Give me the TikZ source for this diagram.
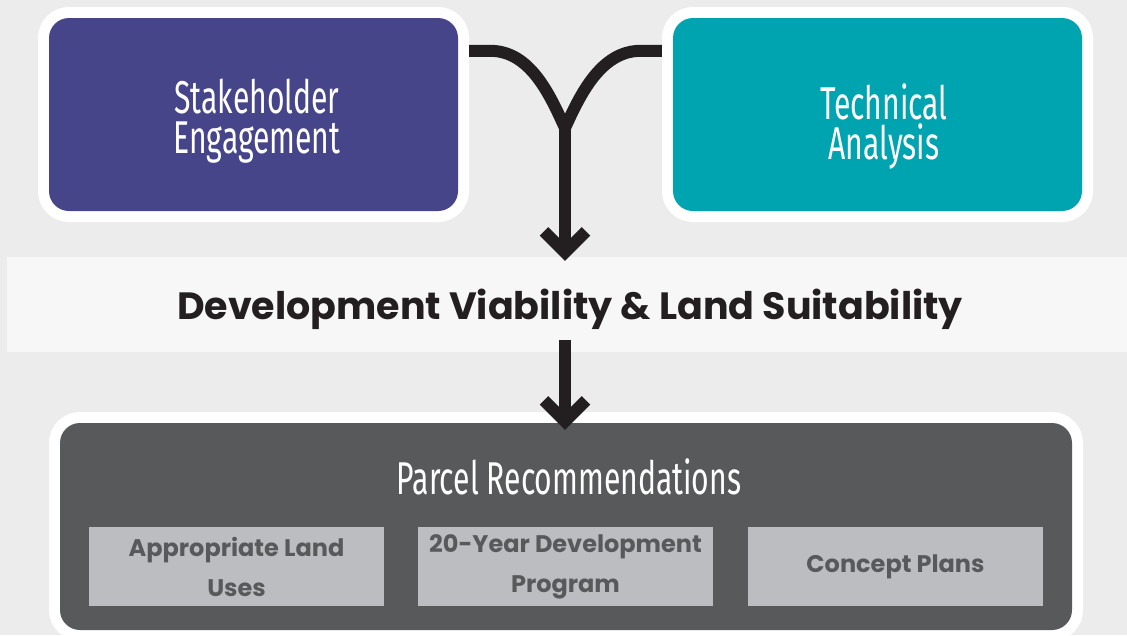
\documentclass[tikz,border=0pt]{standalone}
\usepackage{fontspec}
\setmainfont{Poppins}
\newfontfamily\condfont[FakeStretch=0.655]{Fira Sans}
\usetikzlibrary{arrows.meta,calc,positioning}
\definecolor{SEPurple}{HTML}{46458A}
\definecolor{TATeal}{HTML}{00A4B1}
\definecolor{PRGray}{HTML}{58595B}
\definecolor{SubGray}{HTML}{BCBDC0}
\definecolor{BgGray}{HTML}{ECECEC}
\definecolor{BandGray}{HTML}{F7F7F7}
\definecolor{ArrowBlack}{HTML}{231F20}
\tikzset{
    block/.style = {rectangle, rounded corners=20pt, inner sep=0pt,
        minimum width=409pt,
        minimum height=193pt,
        preaction={draw=white, line width=22pt}},
    label/.style = {text=white, align=center,
        font=\condfont\fontsize{46}{40}\selectfont},
    band/.style = {rectangle, fill=BandGray, inner sep=0pt,
        minimum width=1120pt, minimum height=95pt,
        text=ArrowBlack, font=\bfseries\fontsize{38}{40}\selectfont},
    sub/.style = {rectangle, fill=SubGray, inner sep=0pt,
        minimum width=295pt, minimum height=79pt,
        align=center, text=PRGray,
        font=\bfseries\fontsize{24}{40}\selectfont},
    branch/.style = {draw=ArrowBlack, line width=12pt},
    arrow/.style = {branch, -{Straight Barb[length=21pt,width=42pt]}}
}
\begin{document}
\begin{tikzpicture}[x=1pt,y=-1pt]
    \fill[BgGray] (0,0) rectangle (1127,635);
    \useasboundingbox (0,0) rectangle (1127,635);
    % inputs
    \node[block, fill=SEPurple] (stake) at (253.5,114.5) {};
    \node[label] (staketext) at (257,121) {Stakeholder\\Engagement};
    \node[block, fill=TATeal] (tech) at (877.5,114.5) {};
    \node[label] (techtext) at (884,126) {Technical\\Analysis};
    \node[band] (viab) at (567,304.5) {};
    \node[text=ArrowBlack, font=\bfseries\fontsize{38}{40}\selectfont] (viabtext) at (570,309) {Development Viability \& Land Suitability};
    % output
    \node[block, fill=PRGray, minimum width=1012pt, minimum height=207pt] (recs) at (566,526.5) {};
    \node[label] (recstext) at (569,477) {Parcel Recommendations};
    \node[sub] (uses) at (236.5,566.5) {Appropriate Land\\Uses};
    \node[sub] (prog) at (565.5,566.5) {20-Year Development\\Program};
    \node[sub] (plans) at (895.5,566.5) {Concept Plans};
    % connectors
    \coordinate (merge) at (565,128);
    \draw[branch] ($(stake.north east)+(11,33)$) -- ++(21,0)
        .. controls +(40,0) and ($(merge)+(-15,-33)$) .. (merge);
    \draw[branch] ($(tech.north west)+(-11,33)$) -- ++(-21,0)
        .. controls +(-40,0) and ($(merge)+(15,-33)$) .. (merge);
    \draw[arrow, shorten >=-4pt] (merge) -- (merge |- viab.north);
    \draw[arrow, shorten <=-12pt, shorten >=-7pt] (viab.south -| merge) -- (merge |- recs.north);
\end{tikzpicture}
\end{document}
